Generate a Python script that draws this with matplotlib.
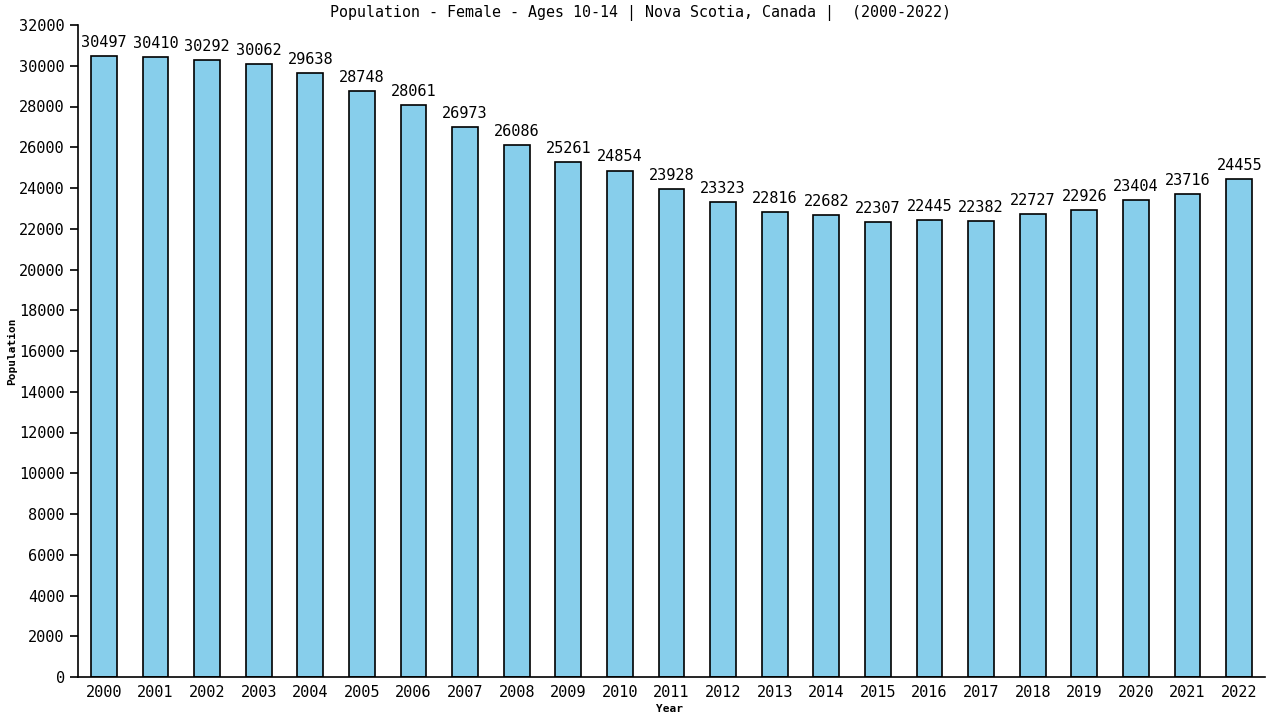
import matplotlib
matplotlib.use("Agg")
import matplotlib.pyplot as plt

years = list(range(2000, 2023))
population = [30497, 30410, 30292, 30062, 29638, 28748, 28061, 26973, 26086, 25261,
              24854, 23928, 23323, 22816, 22682, 22307, 22445, 22382, 22727, 22926,
              23404, 23716, 24455]
yticks = list(range(0, 32001, 2000))

plt.rcParams['font.family'] = ['DejaVu Sans Mono']

fig = plt.figure(figsize=(12.8, 7.2), dpi=100)
ax = fig.add_axes([78/1280, 43/720, (1265-78)/1280, (677-25)/720])

pos = list(range(len(years)))
ax.bar(pos, population, width=0.5, color="#87CEEB", edgecolor="black", linewidth=1.2)
for p, v in zip(pos, population):
    ax.text(p, v + 300, str(v), ha="center", va="bottom", fontsize=11)

ax.set_xlim(-0.5, len(years) - 0.5)
ax.set_ylim(0, 32000)
ax.set_xticks(pos)
ax.set_xticklabels([str(y) for y in years], fontsize=11)
ax.set_yticks(yticks)
ax.set_yticklabels([str(t) for t in yticks], fontsize=11)
ax.tick_params(axis="x", length=0, pad=6)
ax.tick_params(axis="y", length=6, width=1.2, direction="out")
for s in ["top", "right"]:
    ax.spines[s].set_visible(False)
for s in ["left", "bottom"]:
    ax.spines[s].set_linewidth(1.2)

fig.text(640/1280, 1 - 13/720, "Population - Female - Ages 10-14 | Nova Scotia, Canada |  (2000-2022)",
         ha="center", va="center", fontsize=10.8)
fig.text(12/1280, 1 - 351/720, "Population", rotation=90, ha="center", va="center",
         fontsize=8, fontweight="bold")
fig.text(670/1280, 1 - 709/720, "Year", ha="center", va="center", fontsize=8, fontweight="bold")

fig.savefig("out.png", dpi=100)
